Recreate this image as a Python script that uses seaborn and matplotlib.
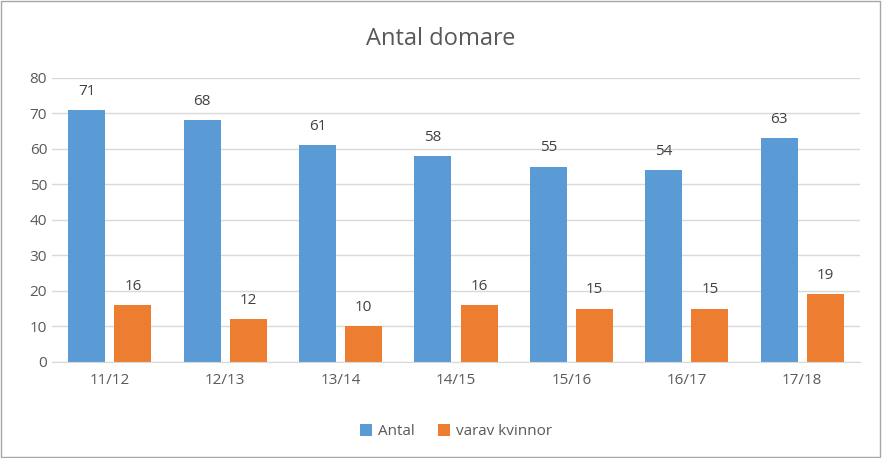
import matplotlib
matplotlib.use("Agg")
import matplotlib.pyplot as plt
import seaborn as sns
import pandas as pd

seasons = ["11/12", "12/13", "13/14", "14/15", "15/16", "16/17", "17/18"]
antal = [71, 68, 61, 58, 55, 54, 63]
kvinnor = [16, 12, 10, 16, 15, 15, 19]

df = pd.DataFrame({
    "season": seasons * 2,
    "value": antal + kvinnor,
    "serie": ["Antal"] * len(seasons) + ["varav kvinnor"] * len(seasons),
})

plt.rcParams["font.family"] = "Open Sans"
grey = "#595959"

fig = plt.figure(figsize=(8.82, 4.58), dpi=100)
ax = fig.add_axes([0.059, 0.21, 0.916, 0.62])
sns.barplot(data=df, x="season", y="value", hue="serie", ax=ax,
            palette=["#5B9BD5", "#ED7D31"], width=0.8, gap=0.2, saturation=1)

for c in ax.containers:
    ax.bar_label(c, padding=8, fontsize=11, color="#404040")

ax.set_ylim(0, 80)
ax.set_yticks(range(0, 81, 10))
ax.grid(axis="y", color="#D9D9D9", linewidth=1)
ax.set_axisbelow(True)
for s in ["top", "right", "left"]:
    ax.spines[s].set_visible(False)
ax.spines["bottom"].set_color("#D9D9D9")
ax.tick_params(length=0, colors=grey, labelsize=11)
ax.tick_params(axis="x", pad=8)
ax.set_xlabel("")
ax.set_ylabel("")

fig.suptitle("Antal domare", y=0.94, fontsize=17, color=grey)
ax.legend(loc="upper center", bbox_to_anchor=(0.5, -0.17), ncol=2, frameon=False,
          fontsize=11, labelcolor=grey, handlelength=0.8, handleheight=0.8,
          columnspacing=1.5, handletextpad=0.4)

fig.patches.append(plt.Rectangle((0.001, 0.002), 0.997, 0.996, transform=fig.transFigure,
                                 fill=False, edgecolor="#A6A6A6", linewidth=1))
fig.savefig("out.png", dpi=100)
